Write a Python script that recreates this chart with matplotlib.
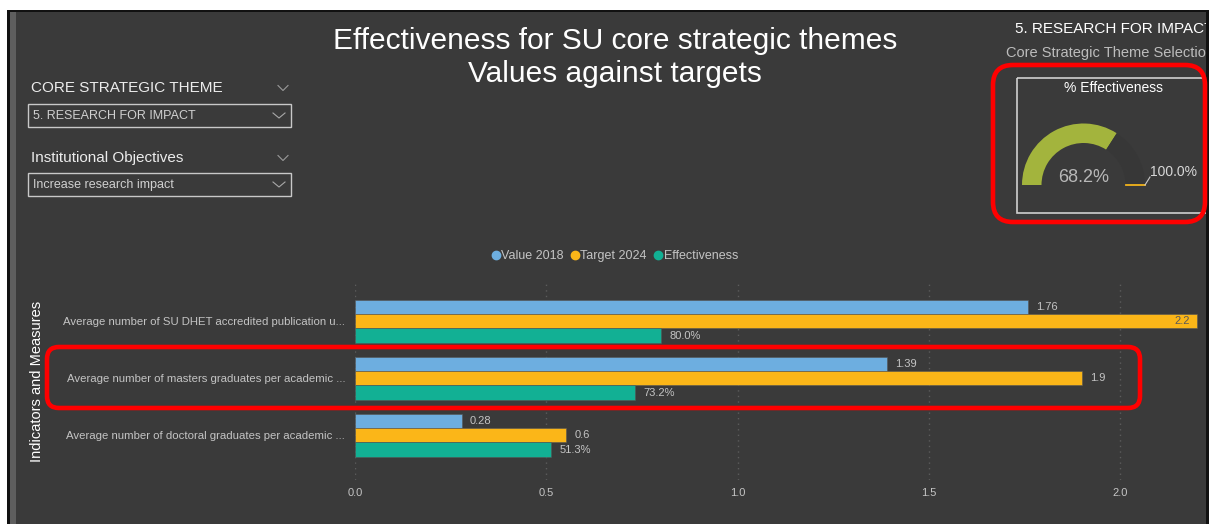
import matplotlib
matplotlib.use("Agg")
import matplotlib.pyplot as plt
import numpy as np
from matplotlib.lines import Line2D
from matplotlib.patches import FancyBboxPatch, Rectangle, Wedge

plt.rcParams["font.family"] = ["Liberation Sans", "DejaVu Sans"]

# %% data
indicators = [
    "Average number of SU DHET accredited publication u...",
    "Average number of masters graduates per academic ...",
    "Average number of doctoral graduates per academic ...",
]
value_2018 = [1.76, 1.39, 0.28]
target_2024 = [2.2, 1.9, 0.552]
effectiveness = [0.800, 0.732, 0.513]
series_names = ["Value 2018", "Target 2024", "Effectiveness"]
x_ticks = [0.0, 0.5, 1.0, 1.5, 2.0]

theme = "5. RESEARCH FOR IMPACT"
objective = "Increase research impact"
gauge_value = np.mean(effectiveness)
gauge_target = 1.0

# %% style
W, H = 1214, 524
PANEL = "#3a3a3a"
BLUE, ORANGE, TEAL = "#6daee0", "#fbb618", "#12b094"
GREEN = "#a3b43d"
LABEL = "#c4c4c4"

fig = plt.figure(figsize=(W / 100, H / 100), dpi=100)
fig.patch.set_facecolor("white")


def frac(x0, y0, x1, y1):
    return [x0 / W, 1 - y1 / H, (x1 - x0) / W, (y1 - y0) / H]


def pixel_axes(z):
    a = fig.add_axes([0, 0, 1, 1], zorder=z)
    a.set_xlim(0, W)
    a.set_ylim(H, 0)
    a.axis("off")
    a.patch.set_visible(False)
    return a


bg = pixel_axes(0)
bg.add_patch(Rectangle((8, 10), 1200, 520, color=PANEL, lw=0))
bg.add_patch(Rectangle((10, 12), 6, 520, color="#5e5e5e", lw=0))

# %% bar chart
ax = fig.add_axes(frac(355, 280, 1200, 480), zorder=1)
ax.patch.set_visible(False)
y = np.arange(len(indicators))
h = 14.3 / 57
xmax = 845 / 382.5
ax.set_xlim(0, xmax)
ax.set_ylim(2 + (480 - 435.3) / 57, -(321.3 - 280) / 57)

groups = [
    (value_2018, BLUE, lambda v: f"{v:.2f}"),
    (target_2024, ORANGE, lambda v: f"{v:.1f}"),
    (effectiveness, TEAL, lambda v: f"{v:.1%}"),
]
for k, (vals, col, fmt) in enumerate(groups):
    bars = ax.barh(y + (k - 1) * h, vals, height=h, color=col,
                   edgecolor="#555555", linewidth=0.4, zorder=2)
    for rect, v in zip(bars, vals):
        yc = rect.get_y() + rect.get_height() / 2
        if v > xmax - 0.1:
            ax.annotate(fmt(v), (v, yc), xytext=(-7, 0), textcoords="offset pixels",
                        ha="right", va="center", fontsize=8, color="#5a5a5a")
        else:
            ax.annotate(fmt(v), (v, yc), xytext=(8, 0), textcoords="offset pixels",
                        ha="left", va="center", fontsize=8, color=LABEL)

ax.set_yticks(y, indicators)
ax.set_xticks(x_ticks, [f"{t:.1f}" for t in x_ticks])
ax.tick_params(axis="both", length=0, labelsize=8, labelcolor=LABEL)
ax.tick_params(axis="y", pad=7, labelsize=8.2)
ax.tick_params(axis="x", pad=6)
ax.grid(axis="x", color="#5c5c5c", linestyle=(0, (1, 3)), linewidth=1, zorder=0)
ax.grid(axis="y", visible=False)
for s in ax.spines.values():
    s.set_visible(False)

handles = [Line2D([], [], marker="o", linestyle="none", markersize=6,
                  markerfacecolor=c, markeredgecolor=c) for c in (BLUE, ORANGE, TEAL)]
fig.legend(handles, series_names, loc="center", ncol=3,
           bbox_to_anchor=(615 / W, 1 - 256 / H), frameon=False, fontsize=9,
           labelcolor=LABEL, handlelength=0.6, handletextpad=0.15,
           columnspacing=0.6, borderpad=0)

# %% decorations
top = pixel_axes(2)
top.text(615, 41, "Effectiveness for SU core strategic themes", ha="center",
         va="center", fontsize=21.5, color="white")
top.text(615, 74, "Values against targets", ha="center", va="center",
         fontsize=21.5, color="white")
top.text(37, 381, "Indicators and Measures", rotation=90, ha="center",
         va="center", fontsize=10.5, color="white")


def chevron(x, yc, w, hgt, col):
    top.plot([x - w / 2, x, x + w / 2], [yc - hgt / 2, yc + hgt / 2, yc - hgt / 2],
             color=col, lw=0.8)


for label, ly, value, by in [("CORE STRATEGIC THEME", 88, theme, 104),
                             ("Institutional Objectives", 158, objective, 173)]:
    top.text(31, ly, label, ha="left", va="center", fontsize=11, color="#ececec")
    chevron(283, ly, 10, 5, "#9a9a9a")
    top.add_patch(Rectangle((28, by), 263, 23, fill=False, ec="#c8c8c8", lw=1))
    top.text(33, by + 12, value, ha="left", va="center", fontsize=9,
             color="#d0d0d0")
    chevron(279, by + 11.5, 12, 5, "#a8a8a8")

# card at the right
top.text(1015, 29, theme, ha="left", va="center", fontsize=11, color="white")
top.text(1006, 53, "Core Strategic Theme Selection", ha="left", va="center",
         fontsize=10.5, color="#bdbdbd")
top.add_patch(Rectangle((1017, 78), 260, 135, fill=False, ec="#d0d0d0", lw=1.2,
                        zorder=2))
top.text(1114, 88, "% Effectiveness", ha="center", va="center", fontsize=10,
         color="white")

cx, cy, r_out, r_in = 1083.5, 185, 61.5, 42
end = 180 + 180 * gauge_value
top.add_patch(Wedge((cx, cy), r_out, 180, end, width=r_out - r_in, color=GREEN, lw=0))
top.add_patch(Wedge((cx, cy), r_out, end, 360, width=r_out - r_in, color="#373737",
                    lw=0))
ta = np.radians(180 + 180 * gauge_target)
top.plot([cx + r_in * np.cos(ta), cx + r_out * np.cos(ta)],
         [cy + r_in * np.sin(ta), cy + r_out * np.sin(ta)], color="#f2b31b", lw=1.3)
tx, ty = cx + r_out * np.cos(ta), cy + r_out * np.sin(ta)
top.plot([tx, tx + 5], [ty, ty - 8], color="#c8c8c8", lw=0.8)
top.text(tx + 5, ty - 13, f"{gauge_target:.1%}", ha="left", va="center",
         fontsize=10, color="#d8d8d8")
top.text(cx, 177, f"{gauge_value:.1%}", ha="center", va="center", fontsize=13,
         color="#b8b8b8")

# panel edges hiding overflow
top.add_patch(Rectangle((1206, 0), 20, H, color="white", lw=0, zorder=4))
top.add_patch(Rectangle((1206, 10), 2.5, H, color="#111111", lw=0, zorder=4))
top.add_patch(Rectangle((7, 10), 2.5, H, color="#111111", lw=0, zorder=4))
top.add_patch(Rectangle((7, 10), 1201, 2, color="#111111", lw=0, zorder=4))

# red highlight boxes
for (x0, y0, x1, y1, rad) in [(47, 347, 1140, 408, 12), (993, 65, 1205, 222, 20)]:
    top.add_patch(FancyBboxPatch((x0, y0), x1 - x0, y1 - y0,
                                 boxstyle=f"round,pad=0,rounding_size={rad}",
                                 fill=False, ec="#ff0000", lw=3.3, zorder=5))

fig.savefig("out.png", dpi=100, facecolor="white")
